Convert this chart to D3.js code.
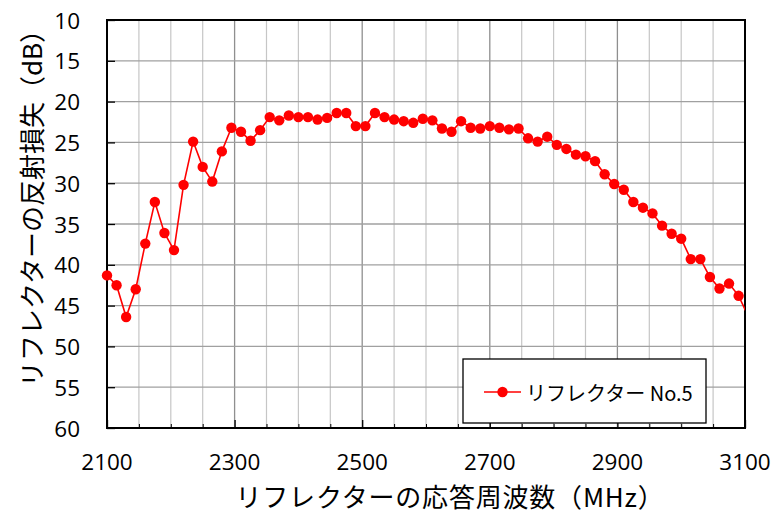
<!DOCTYPE html>
<html lang="ja">
<head>
<meta charset="utf-8">
<script src="https://cdn.jsdelivr.net/npm/d3@7"></script>
<style>
  html, body { margin: 0; padding: 0; background: #fff; }
  svg { display: block; }
  .tick-label { font-family: "Open Sans", "Noto Sans", sans-serif; font-size: 22.5px; fill: #000; }
  .title { font-family: "Noto Sans CJK JP", sans-serif; font-size: 26px; fill: #000; }
  .title-x { letter-spacing: 0.8px; }
  .legend-text { font-family: "Noto Sans CJK JP", sans-serif; font-size: 20px; fill: #000; }
</style>
</head>
<body>
<svg id="chart" width="774" height="513"></svg>
<script>
// Frequency sweep (MHz), 15 MHz steps; last sample lies just past the axis end
const freqMHz = [
  2100, 2115, 2130, 2145, 2160, 2175, 2190, 2205, 2220, 2235,
  2250, 2265, 2280, 2295, 2310, 2325, 2340, 2355, 2370, 2385,
  2400, 2415, 2430, 2445, 2460, 2475, 2490, 2505, 2520, 2535,
  2550, 2565, 2580, 2595, 2610, 2625, 2640, 2655, 2670, 2685,
  2700, 2715, 2730, 2745, 2760, 2775, 2790, 2805, 2820, 2835,
  2850, 2865, 2880, 2895, 2910, 2925, 2940, 2955, 2970, 2985,
  3000, 3015, 3030, 3045, 3060, 3075, 3090, 3105
];

// Return loss of reflector No.5 (dB)
const returnLossNo5 = [
  41.3, 42.5, 46.4, 43.0, 37.4, 32.3, 36.1, 38.2, 30.2, 24.9,
  28.0, 29.8, 26.1, 23.2, 23.7, 24.8, 23.5, 21.9, 22.3, 21.7,
  21.9, 21.9, 22.2, 22.0, 21.4, 21.4, 23.0, 23.0, 21.4, 21.9,
  22.2, 22.4, 22.6, 22.1, 22.3, 23.3, 23.7, 22.4, 23.2, 23.3,
  23.0, 23.2, 23.4, 23.3, 24.5, 24.9, 24.3, 25.3, 25.8, 26.5,
  26.7, 27.3, 28.9, 30.1, 30.8, 32.3, 33.0, 33.7, 35.2, 36.2,
  36.8, 39.3, 39.3, 41.5, 42.9, 42.3, 43.8, 46.3
];

const seriesName = "リフレクター No.5";
const xTickValues = [2100, 2300, 2500, 2700, 2900, 3100];
const yTickValues = [10, 15, 20, 25, 30, 35, 40, 45, 50, 55, 60];
const xTitle = "リフレクターの応答周波数（MHz）";
const yTitle = "リフレクターの反射損失（dB）";

const svg = d3.select("#chart");
const plot = { left: 107, right: 745, top: 20, bottom: 428 };

const x = d3.scaleLinear().domain([2100, 3100]).range([plot.left, plot.right]);
const y = d3.scaleLinear().domain([10, 60]).range([plot.top, plot.bottom]);

// Minor vertical grid every 50 MHz
const minorX = d3.range(2100, 3101, 50).filter(v => v % 200 !== 100);
svg.append("g")
  .selectAll("line").data(minorX).join("line")
  .attr("x1", d => x(d)).attr("x2", d => x(d))
  .attr("y1", plot.top).attr("y2", plot.bottom)
  .attr("stroke", "#c6c6c6").attr("stroke-width", 1.2);

// Major vertical grid every 200 MHz
svg.append("g")
  .selectAll("line").data(xTickValues).join("line")
  .attr("x1", d => x(d)).attr("x2", d => x(d))
  .attr("y1", plot.top).attr("y2", plot.bottom)
  .attr("stroke", "#8f8f8f").attr("stroke-width", 1.3);

// Horizontal grid every 5 dB
svg.append("g")
  .selectAll("line").data(yTickValues).join("line")
  .attr("x1", plot.left).attr("x2", plot.right)
  .attr("y1", d => y(d)).attr("y2", d => y(d))
  .attr("stroke", "#a0a0a0").attr("stroke-width", 1.3);

// Axes with inward ticks
const yAxis = d3.axisLeft(y).tickValues(yTickValues).tickSize(-8).tickFormat("");
const yAxisG = svg.append("g").attr("transform", `translate(${plot.left},0)`).call(yAxis);
yAxisG.select(".domain").remove();
yAxisG.selectAll("line").attr("stroke", "#000").attr("stroke-width", 1.3);

const xAxisMinor = d3.axisBottom(x).tickValues(minorX).tickSize(-4).tickFormat("");
const xMinorG = svg.append("g").attr("transform", `translate(0,${plot.bottom})`).call(xAxisMinor);
xMinorG.select(".domain").remove();
xMinorG.selectAll("line").attr("stroke", "#000").attr("stroke-width", 1);

const xAxis = d3.axisBottom(x).tickValues(xTickValues).tickSize(-8).tickFormat("");
const xAxisG = svg.append("g").attr("transform", `translate(0,${plot.bottom})`).call(xAxis);
xAxisG.select(".domain").remove();
xAxisG.selectAll("line").attr("stroke", "#000").attr("stroke-width", 1.3);

// Plot frame
svg.append("rect")
  .attr("x", plot.left).attr("y", plot.top)
  .attr("width", plot.right - plot.left).attr("height", plot.bottom - plot.top)
  .attr("fill", "none").attr("stroke", "#000").attr("stroke-width", 2);

// Tick labels
svg.append("g").selectAll("text").data(yTickValues).join("text")
  .attr("class", "tick-label")
  .attr("x", 80).attr("y", d => y(d))
  .attr("text-anchor", "end").attr("dominant-baseline", "central")
  .text(d => d);

svg.append("g").selectAll("text").data(xTickValues).join("text")
  .attr("class", "tick-label")
  .attr("x", d => x(d)).attr("y", 461)
  .attr("text-anchor", "middle").attr("dominant-baseline", "central")
  .text(d => d);

// Axis titles
svg.append("text").attr("class", "title title-x")
  .attr("x", 450).attr("y", 495)
  .attr("text-anchor", "middle").attr("dominant-baseline", "central")
  .text(xTitle);

svg.append("text").attr("class", "title")
  .attr("transform", "translate(30,202) rotate(-90)")
  .attr("text-anchor", "middle").attr("dominant-baseline", "central")
  .text(yTitle);

// Data series, clipped to the plot area
svg.append("clipPath").attr("id", "plot-clip")
  .append("rect")
  .attr("x", plot.left - 8).attr("y", plot.top - 8)
  .attr("width", plot.right - plot.left + 8).attr("height", plot.bottom - plot.top + 16);

const points = freqMHz.map((f, i) => ({ f, v: returnLossNo5[i] }));
const series = svg.append("g").attr("clip-path", "url(#plot-clip)");

series.append("path")
  .datum(points)
  .attr("fill", "none").attr("stroke", "#ff0000").attr("stroke-width", 1.6)
  .attr("d", d3.line().x(d => x(d.f)).y(d => y(d.v)));

series.selectAll("circle").data(points.filter(d => d.f <= 3100)).join("circle")
  .attr("cx", d => x(d.f)).attr("cy", d => y(d.v))
  .attr("r", 5.2).attr("fill", "#ff0000");

// Legend
const legend = svg.append("g").attr("transform", "translate(463,359)");
legend.append("rect")
  .attr("width", 243).attr("height", 64)
  .attr("fill", "#fff").attr("stroke", "#000").attr("stroke-width", 1.3);
legend.append("line")
  .attr("x1", 21).attr("x2", 58).attr("y1", 33).attr("y2", 33)
  .attr("stroke", "#ff0000").attr("stroke-width", 1.6);
legend.append("circle")
  .attr("cx", 39.5).attr("cy", 33).attr("r", 5.2).attr("fill", "#ff0000");
legend.append("text").attr("class", "legend-text")
  .attr("x", 63).attr("y", 33).attr("dominant-baseline", "central")
  .text(seriesName);
</script>
</body>
</html>
